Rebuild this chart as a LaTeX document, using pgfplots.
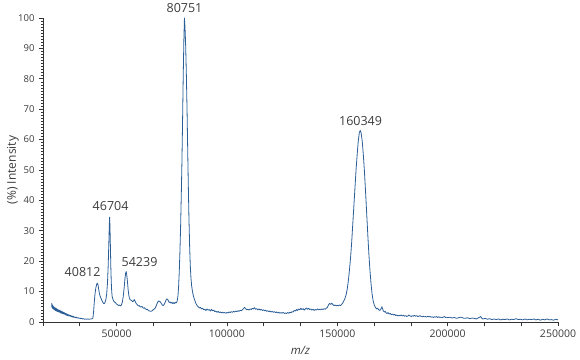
\documentclass[border=0pt]{standalone}
\usepackage{fontspec}
\setmainfont{Open Sans}
\usepackage{pgfplots}
\pgfplotsset{compat=1.18}
\definecolor{specblue}{HTML}{2B5E97}
\definecolor{txtgray}{HTML}{3C3C3C}
\definecolor{axgray}{HTML}{333333}
\begin{document}
\begin{tikzpicture}
\path[use as bounding box] (-43bp,-38bp) rectangle (537bp,322bp);
\begin{axis}[
  at={(0,0)}, anchor=south west,
  scale only axis, width=515bp, height=304bp,
  xmin=16667, xmax=250000, ymin=0, ymax=100,
  axis x line*=bottom, axis y line*=left,
  axis line style={axgray, line width=0.8bp},
  every tick/.style={axgray, line width=0.6bp},
  tick align=outside,
  major tick length=4bp, minor tick length=2.2bp,
  xtick={16666.67,33333.33,50000,66666.67,83333.33,100000,116666.67,133333.33,150000,166666.67,183333.33,200000,216666.67,233333.33,250000},
  xticklabels={,,50000,,,100000,,,150000,,,200000,,,250000},
  ytick={0,10,...,100},
  minor y tick num=9,
  scaled x ticks=false,
  /pgf/number format/assume math mode=true,
  yticklabel style={font=\fontsize{9.5bp}{11bp}\selectfont, text=txtgray, xshift=-1bp},
  xticklabel style={font=\fontsize{10.5bp}{12bp}\selectfont, text=txtgray},
  ylabel={(\%) Intensity},
  ylabel style={at={(axis description cs:-0.0583,0.5)}, anchor=center, font=\fontsize{12bp}{14bp}\selectfont, text=txtgray},
  xlabel={\itshape m/z},
  xlabel style={at={(axis description cs:0.5,-0.092)}, anchor=center, font=\fontsize{11.5bp}{14bp}\selectfont, text=txtgray},
  clip=false,
]
\addplot[specblue, line width=0.8bp, line join=round] coordinates {
(20600,6.2)(20700,4.9)(20800,5.8)(20900,4.7)(21000,5.5)(21100,4.4)(21200,5.3)(21300,4.5)(21400,5.1)(21500,4.2)
(21600,5.0)(21700,4.1)(21800,4.8)(21900,4.0)(22000,4.7)(22200,3.8)(22400,4.6)(22600,3.7)(22800,4.4)(23000,3.5)
(23200,4.2)(23400,3.4)(23600,4.0)(23800,3.3)(24000,3.9)(24200,3.2)(24400,3.8)(24600,3.0)(24800,3.6)(25000,2.9)
(25200,3.5)(25400,2.8)(25600,3.3)(25800,2.7)(26000,3.2)(26200,2.6)(26400,3.0)(26600,2.5)(26800,2.9)(27000,2.3)
(27200,2.8)(27400,2.2)(27600,2.6)(27800,2.1)(28000,2.5)(28300,2.0)(28600,2.3)(28900,1.9)(29200,2.2)(29500,1.7)
(29800,2.0)(30100,1.6)(30400,1.9)(30700,1.5)(31000,1.7)(31400,1.4)(31800,1.6)(32200,1.3)(32600,1.4)(33000,1.2)
(33400,1.3)(33800,1.1)(34200,1.2)(34600,1.0)(35000,1.1)(35500,0.9)(36000,1.0)(36500,0.9)(37000,1.0)(37500,0.9)
(38000,1.0)(38500,1.0)(39000,1.1)(39300,1.4)(39600,3.5)(39900,6.5)(40200,9.0)(40600,11.2)(41000,12.4)(41300,12.8)
(41600,12.2)(41900,10.8)(42200,9.5)(42500,8.6)(42800,8.0)(43100,7.6)(43400,7.0)(43700,6.6)(44000,6.2)(44300,6.0)
(44700,6.3)(45100,7.2)(45500,9.0)(45900,13.0)(46200,18.5)(46500,26.0)(46700,31.5)(46850,34.5)(47000,31.5)(47200,25.0)
(47400,18.0)(47600,13.0)(47800,10.0)(48000,8.4)(48300,7.6)(48600,7.0)(49000,6.6)(49400,6.4)(49800,6.1)(50200,5.8)
(50600,5.6)(51000,5.4)(51400,5.6)(51800,5.3)(52200,5.6)(52600,6.5)(53000,8.3)(53400,11.0)(53800,14.2)(54100,16.0)
(54350,16.6)(54600,15.6)(54900,13.5)(55200,11.0)(55500,9.0)(55800,7.9)(56100,7.4)(56500,7.2)(56900,7.0)(57300,6.7)
(57700,6.9)(58000,7.4)(58300,7.0)(58700,6.3)(59100,5.9)(59500,5.6)(59900,5.3)(60300,5.4)(60700,5.0)(61100,4.9)
(61500,5.2)(61900,4.7)(62300,4.5)(62700,4.7)(63100,4.3)(63500,4.1)(63900,4.2)(64300,3.9)(64700,3.7)(65100,3.6)
(65500,3.5)(65900,3.6)(66300,3.8)(66700,4.1)(67100,4.3)(67500,4.6)(67900,5.2)(68300,6.0)(68700,6.6)(69100,6.9)
(69500,6.8)(69900,6.5)(70300,6.1)(70700,5.6)(71100,5.4)(71500,5.7)(71900,6.3)(72300,7.0)(72700,7.6)(73100,7.5)
(73500,6.9)(73900,6.4)(74300,6.6)(74700,6.2)(75100,6.5)(75500,6.0)(75900,6.4)(76300,6.1)(76700,6.5)(77100,6.3)
(77500,7.0)(77800,8.5)(78100,11.5)(78400,16.5)(78700,23)(79000,31)(79300,41)(79600,52)(79900,66)(80200,81)
(80500,93)(80750,100)(81000,97)(81300,91)(81600,82)(81900,71)(82200,58)(82500,45)(82800,34)(83100,25)
(83400,18.5)(83700,14.5)(84000,12.0)(84400,10.0)(84800,8.6)(85200,7.6)(85600,6.8)(86000,6.0)(86500,5.4)(87000,5.0)
(87500,4.6)(88000,4.8)(88500,4.3)(89000,4.5)(89500,4.0)(90000,4.2)(90500,3.8)(91000,4.3)(91500,3.9)(92000,4.1)
(92500,3.6)(93000,4.2)(93500,3.7)(94000,3.9)(94500,3.4)(95000,3.6)(95500,3.2)(96000,3.5)(96500,3.1)(97000,3.3)
(97500,3.0)(98000,3.2)(98500,3.0)(99000,3.1)(99500,2.9)(100000,3.1)(100500,3.0)(101000,3.3)(101500,3.1)(102000,3.4)
(102500,3.2)(103000,3.5)(103500,3.3)(104000,3.6)(104500,3.4)(105000,3.7)(105500,3.5)(106000,3.9)(106500,3.7)(107000,4.0)
(107500,4.4)(108000,4.8)(108500,4.4)(109000,4.0)(109500,4.2)(110000,3.9)(110500,4.3)(111000,4.1)(111500,4.5)(112000,4.3)
(112500,4.7)(113000,4.2)(113500,4.4)(114000,4.0)(114500,4.3)(115000,3.9)(115500,4.2)(116000,3.8)(116500,4.0)(117000,3.7)
(117500,3.9)(118000,3.5)(118500,3.7)(119000,3.4)(119500,3.6)(120000,3.3)(120500,3.5)(121000,3.2)(121500,3.4)(122000,3.1)
(122500,3.3)(123000,3.0)(123500,3.2)(124000,2.9)(124500,3.1)(125000,2.9)(125500,3.2)(126000,2.8)(126500,3.0)(127000,2.8)
(127500,3.1)(128000,2.9)(128500,3.2)(129000,3.0)(129500,3.4)(130000,3.3)(130500,3.8)(131000,3.6)(131500,4.1)(132000,3.8)
(132500,4.3)(133000,4.0)(133500,4.5)(134000,4.1)(134500,4.4)(135000,3.9)(135500,4.3)(136000,4.6)(136500,4.2)(137000,4.5)
(137500,4.1)(138000,4.3)(138500,3.9)(139000,4.2)(139500,3.8)(140000,4.1)(140500,3.9)(141000,4.3)(141500,4.0)(142000,4.2)
(142500,4.0)(143000,4.3)(143500,4.1)(144000,4.4)(144500,4.2)(145000,4.5)(145500,4.8)(146000,5.6)(146500,6.1)(147000,5.8)
(147500,6.2)(148000,5.7)(148500,5.4)(149000,5.6)(149500,5.3)(150000,5.5)(150500,5.3)(151000,5.6)(151500,5.4)(152000,5.8)
(152500,6.3)(153000,7.0)(153500,7.8)(154000,9.0)(154500,10.8)(155000,13.5)(155500,17)(156000,21)(156500,26)(157000,32)
(157500,38)(158000,44)(158500,50)(159000,55)(159500,59.5)(160000,62.3)(160400,63)(160800,62.2)(161300,59.5)(161800,55)
(162300,49.5)(162800,43)(163300,36)(163800,29)(164300,22.5)(164800,17)(165300,12.5)(165800,9)(166300,6.8)(166800,5.5)
(167300,4.8)(167800,4.3)(168300,4.5)(168800,4.0)(169300,3.8)(169800,4.3)(170200,5.0)(170500,4.4)(170900,3.6)(171300,3.3)
(171700,3.5)(172100,3.0)(172500,2.8)(173000,3.1)(173500,2.6)(174000,2.8)(174500,2.4)(175000,2.6)(175500,2.3)(176000,2.5)
(176500,2.1)(177000,2.3)(177500,2.0)(178000,2.2)(178500,2.0)(179000,2.3)(179500,2.0)(180000,2.2)(180500,1.9)(181000,2.1)
(181500,1.8)(182000,2.0)(182500,2.3)(183000,2.0)(183500,1.8)(184000,2.1)(184500,1.9)(185000,2.2)(185500,1.9)(186000,2.1)
(186500,1.8)(187000,1.9)(187500,2.1)(188000,1.8)(188500,1.7)(189000,1.9)(189500,1.7)(190000,1.8)(190500,1.6)(191000,1.9)
(191500,1.7)(192000,1.8)(192500,1.6)(193000,1.7)(193500,1.5)(194000,1.7)(194500,1.6)(195000,1.8)(195500,1.5)(196000,1.7)
(196500,1.5)(197000,1.6)(197500,1.4)(198000,1.6)(198500,1.8)(199000,1.5)(199500,1.6)(200000,1.4)(201000,1.6)(202000,1.3)
(203000,1.5)(204000,1.2)(205000,1.4)(206000,1.6)(207000,1.3)(208000,1.2)(209000,1.4)(210000,1.1)(211000,1.3)(212000,1.2)
(213000,1.0)(214000,1.4)(215000,1.8)(215500,1.2)(216000,1.0)(217000,1.2)(218000,0.9)(219000,1.1)(220000,0.8)(221000,1.0)
(222000,0.8)(223000,1.0)(224000,0.7)(225000,0.9)(226000,0.8)(227000,1.0)(228000,0.7)(229000,0.9)(230000,0.8)(231000,1.1)
(232000,0.8)(233000,0.9)(234000,0.7)(235000,1.0)(236000,0.7)(237000,0.9)(238000,0.8)(239000,1.0)(240000,0.7)(241000,0.9)
(242000,0.6)(243000,0.9)(244000,0.7)(245000,1.0)(246000,0.7)(247000,0.8)(248000,0.6)(249000,0.9)(250000,0.7)
};
\node[font=\fontsize{12.5bp}{14bp}\selectfont, text=txtgray] at (axis cs:34615,16.3) {40812};
\node[font=\fontsize{12.5bp}{14bp}\selectfont, text=txtgray] at (axis cs:47285,38.3) {46704};
\node[font=\fontsize{12.5bp}{14bp}\selectfont, text=txtgray] at (axis cs:60408,19.6) {54239};
\node[font=\fontsize{12.5bp}{14bp}\selectfont, text=txtgray] at (axis cs:80770,103.2) {80751};
\node[font=\fontsize{12.5bp}{14bp}\selectfont, text=txtgray] at (axis cs:160546,66.1) {160349};
\end{axis}
\end{tikzpicture}
\end{document}
